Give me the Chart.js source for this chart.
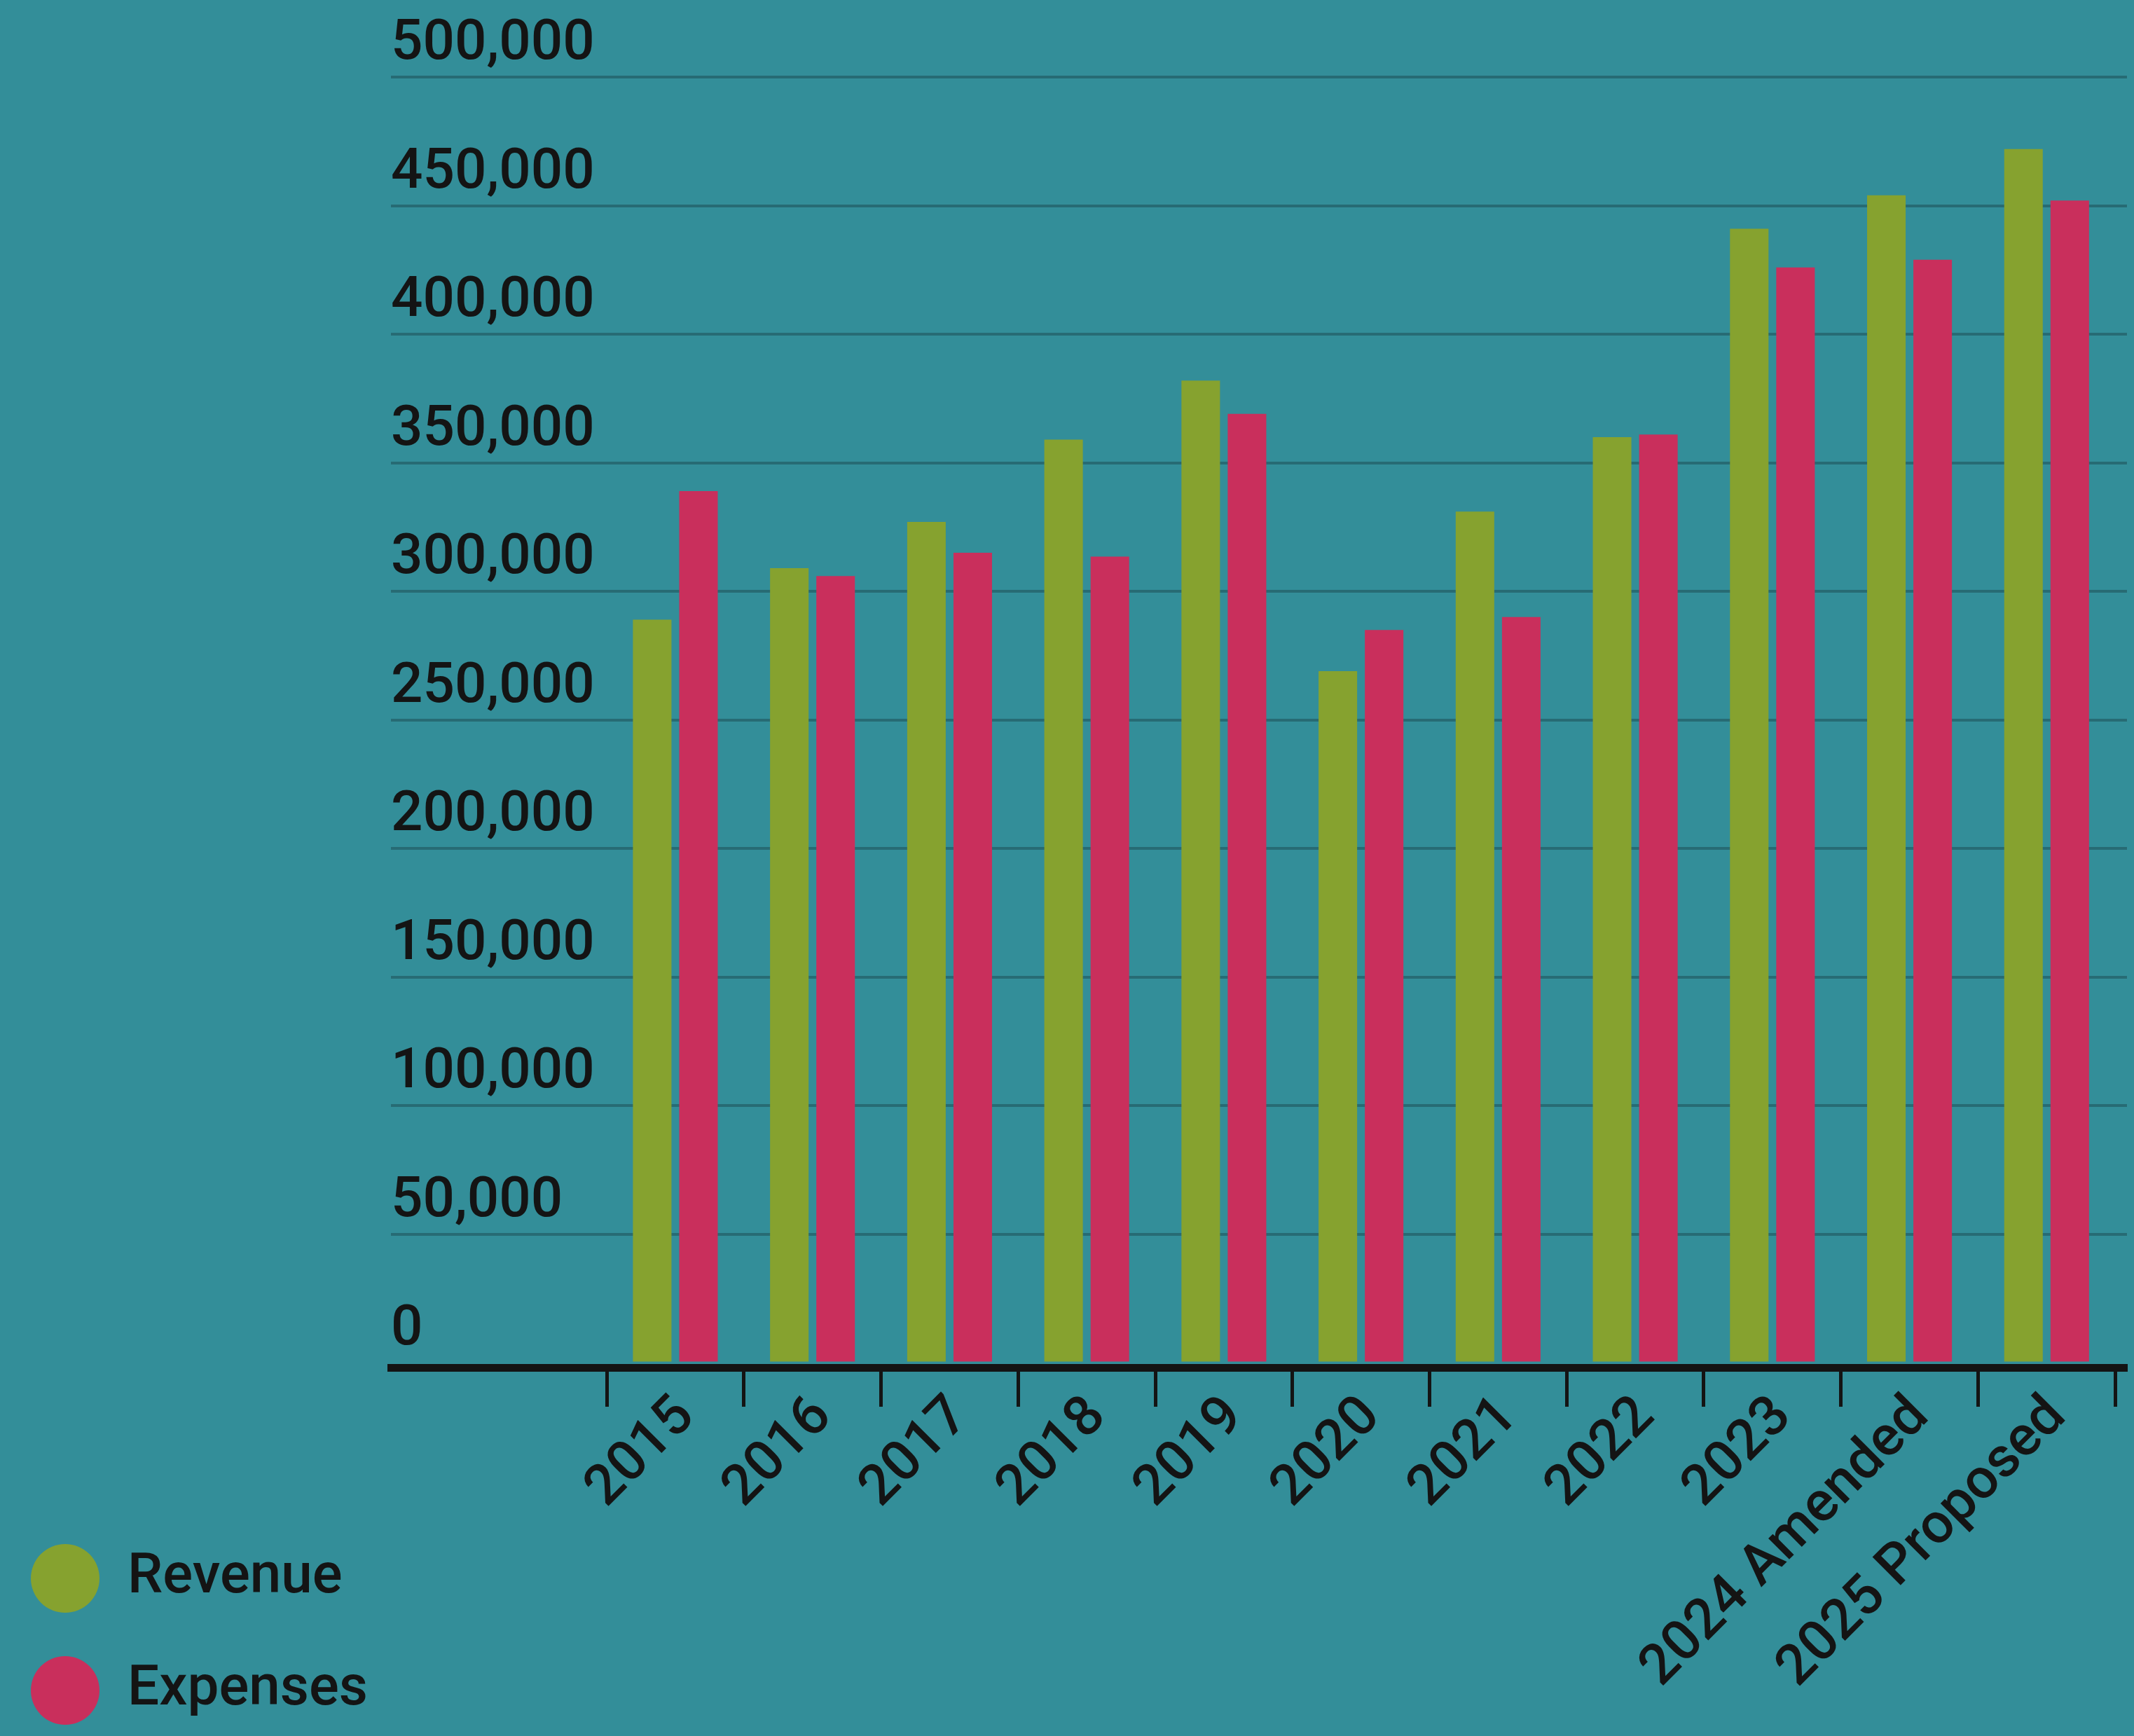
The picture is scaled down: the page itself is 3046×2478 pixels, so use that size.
<!DOCTYPE html>
<html>
<head>
<meta charset="utf-8">
<title>Revenue and Expenses</title>
<script src="https://cdn.jsdelivr.net/npm/chart.js@4.4.1/dist/chart.umd.min.js"></script>
<style>
  html, body { margin: 0; padding: 0; background: #338e99; overflow: hidden; }
  #wrap { width: 3046px; height: 2478px; }
</style>
</head>
<body>
<div id="wrap"><canvas id="budgetChart" width="3046" height="2478"></canvas></div>
<script>
// data
const categories = ["2015", "2016", "2017", "2018", "2019", "2020", "2021", "2022", "2023", "2024 Amended", "2025 Proposed"];
const revenue = [289000, 309000, 327000, 359000, 382000, 269000, 331000, 360000, 441000, 454000, 472000];
const expenses = [339000, 306000, 315000, 313500, 369000, 285000, 290000, 361000, 426000, 429000, 452000];
const yTicks = [0, 50000, 100000, 150000, 200000, 250000, 300000, 350000, 400000, 450000, 500000];

// colours
const green = "#86a22f";
const red = "#c92f5c";
const ink = "#141414";
const gridColor = "#276b74";

// layout numbers (px)
const PAD_LEFT = -18;
const CHART_LEFT = 558;

Chart.defaults.font.family = "Roboto, 'Liberation Sans', sans-serif";
Chart.defaults.font.size = 80;
Chart.defaults.font.weight = "500";
Chart.defaults.color = ink;

const canvas = document.getElementById("budgetChart");

new Chart(canvas, {
  type: "bar",
  data: {
    datasets: [
      {
        label: "Revenue",
        data: revenue.map((v, i) => ({ x: i, y: v })),
        backgroundColor: green,
      },
      {
        label: "Expenses",
        data: expenses.map((v, i) => ({ x: i, y: v })),
        backgroundColor: red,
      },
    ],
  },
  options: {
    responsive: false,
    animation: false,
    layout: { padding: { top: 110, right: 10, bottom: -46, left: PAD_LEFT } },
    datasets: {
      bar: { categoryPercentage: 0.675, barPercentage: 0.833, borderWidth: 0 },
    },
    plugins: {
      tooltip: { enabled: false },
      legend: {
        position: "left",
        align: "end",
        labels: {
          useBorderRadius: true,
          borderRadius: 49,
          boxWidth: 98,
          boxHeight: 98,
          padding: 62,
          color: ink,
          font: { size: 80, weight: "500" },
        },
      },
    },
    scales: {
      x: {
        type: "linear",
        offset: false,
        min: -2.074,
        max: 10.586,
        afterBuildTicks: (axis) => {
          axis.ticks = categories.map((_, i) => ({ value: i }));
        },
        afterFit: (axis) => {
          axis.height = 572;
        },
        grid: {
          offset: true,
          drawOnChartArea: false,
          drawTicks: true,
          tickLength: 56,
          tickWidth: 5,
          tickColor: ink,
        },
        border: { display: true, color: ink, width: 11 },
        ticks: {
          autoSkip: false,
          minRotation: 45,
          maxRotation: 45,
          padding: -32,
          labelOffset: 16,
          color: ink,
          font: { size: 80, weight: "500" },
          callback: (v) => categories[v] ?? "",
        },
      },
      y: {
        min: -1800,
        max: 500000,
        afterBuildTicks: (axis) => {
          axis.ticks = yTicks.map((v) => ({ value: v }));
        },
        afterFit: (axis) => {
          // leave room so the plot starts where the reference does
          axis.width = CHART_LEFT - (PAD_LEFT + axis.chart.legend.width);
        },
        border: { display: false },
        grid: {
          color: (ctx) => (ctx.tick && ctx.tick.value === 0 ? "rgba(0,0,0,0)" : gridColor),
          lineWidth: 4,
          drawTicks: false,
        },
        ticks: {
          mirror: true,
          padding: 0,
          labelOffset: -46,
          color: ink,
          font: { size: 80, weight: "500" },
          callback: (v) => v.toLocaleString("en-US"),
        },
      },
    },
  },
});
</script>
</body>
</html>
